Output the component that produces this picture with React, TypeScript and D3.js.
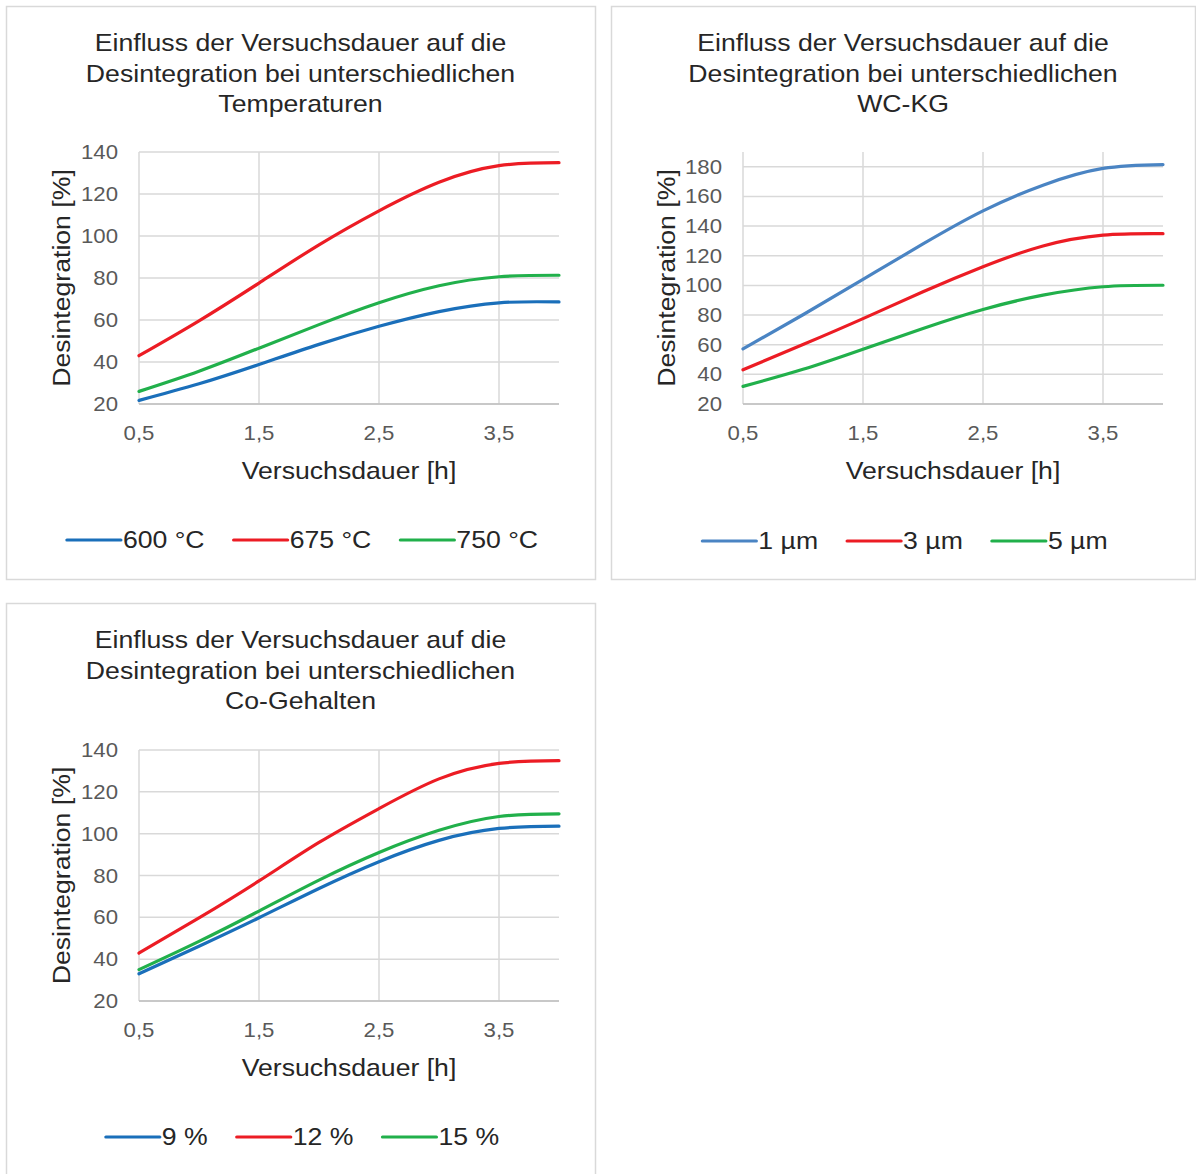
import React from "react";
import * as d3 from "d3";

const xHours = [0.5, 1.0, 1.5, 2.0, 2.5, 3.0, 3.5, 4.0];
const xTickValues = [0.5, 1.5, 2.5, 3.5];

// Panel 1: Temperaturen
const temp600 = [21.7, 29.6, 38.8, 48.4, 57, 64, 68.2, 68.6];
const temp675 = [43, 59.6, 77.6, 95.8, 112, 125.6, 133.5, 134.9];
const temp750 = [26, 35.6, 46.6, 57.8, 68.2, 76.3, 80.6, 81.3];

// Panel 2: WC-KG
const wc1 = [57.2, 80.2, 104, 128, 150.3, 167.6, 178.9, 181.5];
const wc3 = [43.1, 60.1, 77.6, 95.7, 112.6, 126.6, 133.9, 134.9];
const wc5 = [31.9, 43.4, 57, 71, 83.8, 93.4, 99.1, 100.1];

// Panel 3: Co-Gehalten
const co9 = [33, 46.2, 59.8, 73.8, 86.6, 96.8, 102.5, 103.6];
const co12 = [42.9, 59.7, 77.4, 95.8, 112, 126.2, 133.6, 134.9];
const co15 = [35, 48.5, 63, 77.8, 91, 101.6, 108.2, 109.5];

const titles1 = ["Einfluss der Versuchsdauer auf die", "Desintegration bei unterschiedlichen", "Temperaturen"];
const titles2 = ["Einfluss der Versuchsdauer auf die", "Desintegration bei unterschiedlichen", "WC-KG"];
const titles3 = ["Einfluss der Versuchsdauer auf die", "Desintegration bei unterschiedlichen", "Co-Gehalten"];

const labels1 = ["600 °C", "675 °C", "750 °C"];
const labels2 = ["1 µm", "3 µm", "5 µm"];
const labels3 = ["9 %", "12 %", "15 %"];

const yTicks140 = [20, 40, 60, 80, 100, 120, 140];
const yTicks180 = [20, 40, 60, 80, 100, 120, 140, 160, 180];

const BLUE = "#1a6fba";
const BLUE2 = "#4a84c3";
const RED = "#ec1c24";
const GREEN = "#21b04b";

const FONT = "'Liberation Sans', Arial, sans-serif";
const SX = 1.11;

function measure(text: string, size: number): number {
  const c = document.createElement("canvas");
  const ctx = c.getContext("2d");
  if (!ctx) return text.length * size * 0.55;
  ctx.font = `${size}px 'Liberation Sans', Arial, sans-serif`;
  return ctx.measureText(text).width;
}

type STProps = {
  x: number; y: number; size: number; fill: string;
  anchor?: "start" | "middle" | "end"; rotate?: number; dy?: string;
  children: React.ReactNode;
};

function ST({ x, y, size, fill, anchor = "start", rotate = 0, dy, children }: STProps) {
  return (
    <text
      transform={`translate(${x},${y}) rotate(${rotate}) scale(${SX},1)`}
      x={0}
      y={0}
      dy={dy}
      textAnchor={anchor}
      fontSize={size}
      fill={fill}
      fontFamily={FONT}
    >
      {children}
    </text>
  );
}

type PanelProps = {
  fx: number; fy: number; fw: number; fh: number;
  px0: number; px1: number; py0: number; py1: number;
  yMax: number; yTicks: number[];
  titles: string[];
  series: { values: number[]; color: string; label: string }[];
  legendY: number;
};

function Panel(p: PanelProps) {
  const x = d3.scaleLinear().domain([0.5, 4.0]).range([p.px0, p.px1]);
  const y = d3.scaleLinear().domain([20, p.yMax]).range([p.py1, p.py0]);
  const line = d3
    .line<number>()
    .x((_, i) => x(xHours[i]))
    .y((d) => y(d))
    .curve(d3.curveNatural);
  const cx = p.fx + p.fw / 2;
  const plotCx = (p.px0 + p.px1) / 2;
  const plotCy = (p.py0 + p.py1) / 2;

  const lineLen = 54;
  const gapText = 2;
  const gapItem = 29;
  const fs = 24;
  const widths = p.series.map((s) => lineLen + gapText + measure(s.label, fs) * SX);
  const total = widths.reduce((a, b) => a + b, 0) + gapItem * (widths.length - 1);
  let lx = cx - total / 2 + 2;
  const items = p.series.map((s, i) => {
    const start = lx;
    lx += widths[i] + gapItem;
    return { ...s, start };
  });

  return (
    <g>
      <rect x={p.fx + 0.5} y={p.fy + 0.5} width={p.fw} height={p.fh} fill="#fff" stroke="#d9d9d9" strokeWidth={1.5} />
      {p.titles.map((t, i) => (
        <ST key={i} x={cx} y={p.fy + 45 + i * 30.5} anchor="middle" size={24} fill="#262626">
          {t}
        </ST>
      ))}
      {p.yTicks.map((t) => (
        <line key={"h" + t} x1={p.px0} x2={p.px1} y1={y(t)} y2={y(t)} stroke="#d9d9d9" strokeWidth={1.5} />
      ))}
      {xTickValues.map((t) => (
        <line key={"v" + t} x1={x(t)} x2={x(t)} y1={p.py0} y2={p.py1} stroke="#d9d9d9" strokeWidth={1.5} />
      ))}
      <line x1={p.px0} x2={p.px1} y1={p.py1} y2={p.py1} stroke="#bfbfbf" strokeWidth={1.5} />
      {p.yTicks.map((t) => (
        <ST key={"yl" + t} x={p.px0 - 21} y={y(t)} dy="0.35em" anchor="end" size={20} fill="#595959">
          {t}
        </ST>
      ))}
      {xTickValues.map((t) => (
        <ST key={"xl" + t} x={x(t)} y={p.py1 + 36} anchor="middle" size={20} fill="#595959">
          {String(t).replace(".", ",")}
        </ST>
      ))}
      <ST x={plotCx} y={p.py1 + 75} anchor="middle" size={24} fill="#262626">
        Versuchsdauer [h]
      </ST>
      <ST x={p.fx + 64} y={plotCy} rotate={-90} anchor="middle" size={24} fill="#262626">
        Desintegration [%]
      </ST>
      {p.series.map((s, i) => (
        <path key={"s" + i} d={line(s.values) || ""} fill="none" stroke={s.color} strokeWidth={3.2} strokeLinecap="round" />
      ))}
      {items.map((it, i) => (
        <g key={"lg" + i}>
          <line x1={it.start} x2={it.start + lineLen} y1={p.legendY} y2={p.legendY} stroke={it.color} strokeWidth={3.2} strokeLinecap="round" />
          <ST x={it.start + lineLen + gapText} y={p.legendY} dy="0.35em" size={fs} fill="#262626">
            {it.label}
          </ST>
        </g>
      ))}
    </g>
  );
}

export default function App() {
  return (
    <div style={{ position: "absolute", left: 0, top: 0 }}>
      <svg width={1196} height={1174} style={{ display: "block", background: "#fff" }}>
        <Panel
          fx={6} fy={6} fw={589} fh={573}
          px0={139} px1={559} py0={152} py1={404}
          yMax={140} yTicks={yTicks140}
          titles={titles1}
          series={[
            { values: temp600, color: BLUE, label: labels1[0] },
            { values: temp675, color: RED, label: labels1[1] },
            { values: temp750, color: GREEN, label: labels1[2] },
          ]}
          legendY={540}
        />
        <Panel
          fx={611} fy={6} fw={584} fh={573}
          px0={743} px1={1163} py0={152} py1={404}
          yMax={190} yTicks={yTicks180}
          titles={titles2}
          series={[
            { values: wc1, color: BLUE2, label: labels2[0] },
            { values: wc3, color: RED, label: labels2[1] },
            { values: wc5, color: GREEN, label: labels2[2] },
          ]}
          legendY={541}
        />
        <Panel
          fx={6} fy={603} fw={589} fh={600}
          px0={139} px1={559} py0={750} py1={1001}
          yMax={140} yTicks={yTicks140}
          titles={titles3}
          series={[
            { values: co9, color: BLUE, label: labels3[0] },
            { values: co12, color: RED, label: labels3[1] },
            { values: co15, color: GREEN, label: labels3[2] },
          ]}
          legendY={1137}
        />
      </svg>
    </div>
  );
}
